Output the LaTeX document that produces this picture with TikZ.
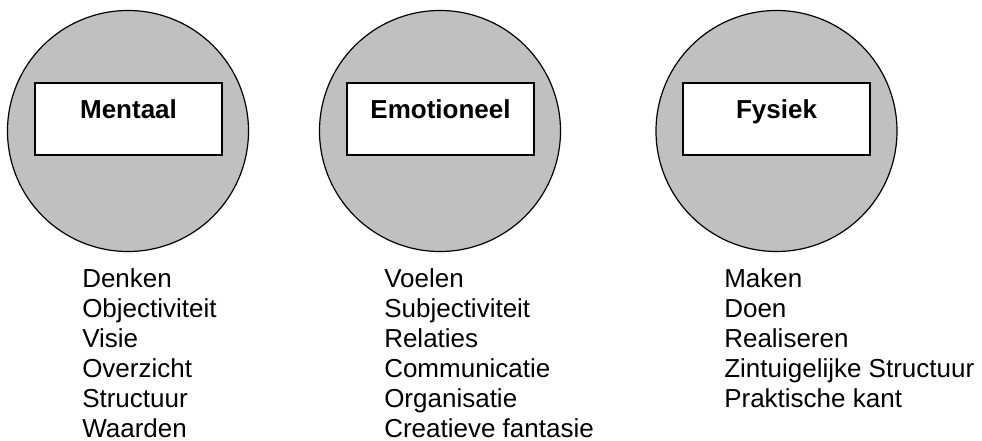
\documentclass[tikz,border=0pt]{standalone}
\usepackage{fontspec}
\setmainfont{Liberation Sans}
\definecolor{circfill}{RGB}{192,192,192}
\begin{document}
\begin{tikzpicture}[x=0.75pt,y=-0.75pt,
  bigcirc/.style={circle, draw=black, line width=0.9pt, fill=circfill, minimum size=180.75pt, inner sep=0pt},
  titlebox/.style={rectangle, draw=black, line width=1pt, fill=white, minimum width=140.25pt, minimum height=54pt, inner sep=0pt},
  titletext/.style={anchor=base, font=\fontsize{19.5}{22}\selectfont\bfseries, inner sep=0pt},
  item/.style={anchor=base west, font=\fontsize{19.5}{22}\selectfont, inner sep=0pt}]
\useasboundingbox (0,0) rectangle (982,441);
% circles
\node[bigcirc] (c1) at (128,131) {};
\node[bigcirc] (c2) at (440,131) {};
\node[bigcirc] (c3) at (776.5,131) {};
% title boxes
\node[titlebox] (b1) at (128.5,119) {};
\node[titlebox] (b2) at (440.5,119) {};
\node[titlebox] (b3) at (776.5,119) {};
\node[titletext] (t1) at (b1.center) {Mentaal};
\node[titletext] (t2) at (b2.center) {Emotioneel};
\node[titletext] (t3) at (b3.center) {Fysiek};
% lists
\foreach [count=\i] \t in {Denken, Objectiviteit, Visie, Overzicht, Structuur, Waarden}
  \node[item] (ma\i) at (82,{288+30*(\i-1)}) {\t};
\foreach [count=\i] \t in {Voelen, Subjectiviteit, Relaties, Communicatie, Organisatie, Creatieve fantasie}
  \node[item] (em\i) at (384,{288+30*(\i-1)}) {\t};
\foreach [count=\i] \t in {Maken, Doen, Realiseren, Zintuigelijke Structuur, Praktische kant}
  \node[item] (fy\i) at (724,{288+30*(\i-1)}) {\t};
\end{tikzpicture}
\end{document}
